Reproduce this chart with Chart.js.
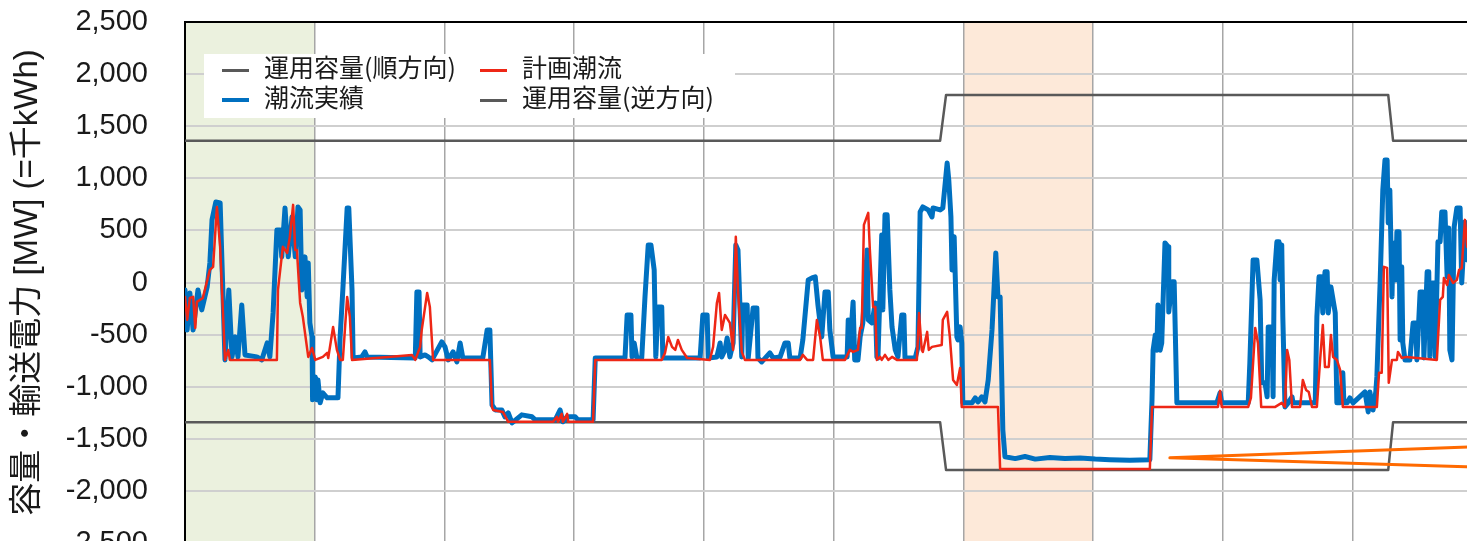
<!DOCTYPE html>
<html>
<head>
<meta charset="utf-8">
<script src="https://cdn.jsdelivr.net/npm/chart.js@4.4.1/dist/chart.umd.min.js"></script>
<style>
  html, body { margin: 0; padding: 0; background: #fff; overflow: hidden; width: 1467px; height: 541px; }
  #wrap { position: absolute; left: 0; top: 0; width: 1620px; height: 600px; }
  #legend { position: absolute; left: 204px; top: 54px; width: 531px; height: 64px; background: #fff;
            font-family: "Noto Sans CJK JP", sans-serif; font-size: 25px; color: #1a1a1a; }
  .item { position: absolute; white-space: nowrap; height: 30px; line-height: 30px; }
  .mark { display: inline-block; width: 27px; vertical-align: middle; margin-right: 15px; }
</style>
</head>
<body>
<div id="wrap"><canvas id="chart"></canvas></div>
<div id="legend">
  <div class="item" style="left:18px;top:-3px"><span class="mark" style="border-top:3px solid #595959"></span>運用容量(順方向)</div>
  <div class="item" style="left:276px;top:-3px"><span class="mark" style="border-top:3px solid #ee2716"></span>計画潮流</div>
  <div class="item" style="left:18px;top:27px"><span class="mark" style="border-top:4px solid #0070c0"></span>潮流実績</div>
  <div class="item" style="left:276px;top:27px"><span class="mark" style="border-top:3px solid #595959"></span>運用容量(逆方向)</div>
</div>
<script>
// time axis in hours from the start of the period (one grid line per day)
const capHours = [0, 139.7, 140.8, 222.6, 223.5, 264];
const capForward = [1360, 1360, 1800, 1800, 1360, 1360];
const capReverse = [-1340, -1340, -1800, -1800, -1340, -1340];

const actualHours = [
  0, 0.4, 0.9, 1.5, 2.4, 3.1, 4.1, 4.6, 5.0, 5.7, 6.5, 7.0, 7.4, 8.1, 8.7, 9.3, 9.8, 10.5, 11.1, 13.3,
  14.2, 15.2, 15.7, 16.3, 17.0, 17.6, 17.9, 18.5, 19.1, 19.8, 20.4, 20.9, 21.3, 21.6, 22.2, 22.6, 22.8, 23.1, 23.5, 23.6,
  24.1, 24.4, 24.6, 25.0, 25.5, 26.3, 28.3, 28.7, 29.2, 30.0, 30.3, 30.9, 31.1, 32.7, 33.3, 33.7, 42.6, 42.9, 43.3, 43.5,
  44.4, 45.0, 45.7, 47.5, 48.1, 48.7, 49.6, 50.3, 50.9, 51.4, 55.1, 55.9, 56.4, 56.8, 57.4, 58.6, 59.2, 59.8, 60.5, 62.3,
  64.2, 64.8, 68.5, 69.4, 69.9, 70.7, 72.2, 72.7, 75.5, 75.9, 81.4, 81.8, 82.5, 82.7, 83.1, 83.6, 84.5, 85.1, 85.7, 86.2,
  86.8, 87.1, 87.5, 88.2, 88.4, 95.3, 95.8, 96.6, 96.8, 98.4, 99.0, 99.3, 99.9, 100.3, 100.8, 101.4, 101.9, 102.3, 103.0, 103.2,
  104.0, 104.2, 105.1, 105.8, 106.0, 106.7, 108.2, 108.8, 110.1, 111.0, 111.6, 111.9, 113.8, 114.3, 115.3, 116.0, 116.6, 117.1, 117.8, 118.4,
  119.0, 119.3, 119.9, 122.5, 122.7, 123.0, 123.6, 123.9, 124.5, 124.9, 125.4, 126.2, 126.4, 127.1, 127.7, 128.0, 128.2, 128.9, 129.1, 129.5,
  129.9, 130.4, 130.8, 131.4, 131.9, 132.6, 133.0, 133.2, 135.1, 135.6, 136.0, 136.5, 137.5, 138.2, 138.4, 139.7, 140.2, 141.0, 141.3, 141.7,
  141.9, 142.3, 142.8, 143.0, 143.4, 143.7, 143.9, 145.6, 146.2, 146.7, 147.4, 148.0, 148.6, 149.3, 150.0, 150.4, 150.8, 151.3, 151.7, 153.6,
  155.4, 157.3, 160.0, 162.8, 165.6, 168.4, 171.1, 174.8, 178.5, 178.9, 179.1, 179.5, 179.8, 180.0, 180.4, 180.7, 181.3, 181.9, 182.0, 182.6,
  183.0, 183.5, 190.9, 191.5, 191.8, 196.7, 197.0, 197.6, 198.3, 198.9, 199.2, 199.8, 200.2, 200.4, 201.1, 201.3, 201.5, 202.0, 202.4, 202.6,
  202.9, 203.1, 203.5, 204.1, 204.8, 205.0, 209.1, 209.4, 209.8, 210.2, 210.5, 210.9, 211.3, 211.5, 212.0, 212.8, 213.1, 213.7, 214.2, 214.4,
  215.0, 215.5, 216.1, 218.3, 218.9, 219.2, 219.8, 220.3, 220.5, 221.1, 221.6, 222.0, 222.4, 222.6, 222.9, 223.3, 223.5, 224.0, 224.2, 224.6,
  224.8, 225.1, 225.3, 225.7, 226.6, 227.2, 227.7, 227.9, 228.5, 229.0, 229.2, 229.8, 230.1, 230.3, 230.7, 231.1, 231.3, 231.8, 232.2, 232.5,
  233.1, 233.5, 233.8, 234.0, 234.4, 234.8, 235.3, 235.9, 236.2, 236.8, 237.2, 238.7
];
const actualMW = [
  -71, -455, -100, -455, -71, -263, -42, 188, 601, 773, 764, -71, -743, -71, -714, -522, -714, -215, -695, -714,
  -743, -580, -714, -292, 505, 505, 246, 716, 246, 629, 246, 725, 697, -71, 246, -138, 188, -388, -522, -1126,
  -906, -1126, -935, -1155, -1059, -1107, -1107, -522, -71, 716, 716, -71, -724, -714, -666, -714, -724, -90, -90, -714,
  -695, -714, -743, -570, -618, -743, -666, -762, -580, -724, -724, -455, -455, -1175, -1223, -1223, -1289, -1251, -1347, -1270,
  -1289, -1318, -1318, -1223, -1337, -1289, -1289, -1318, -1318, -724, -724, -311, -311, -714, -580, -724, -724, -138, 361, 361,
  121, -714, -234, -234, -724, -724, -311, -311, -724, -714, -580, -714, -647, -532, -714, -580, 361, 313, -714, -215,
  -215, -724, -244, -244, -724, -762, -676, -724, -714, -580, -580, -724, -724, -551, 25, 44, 54, -215, -522, -90,
  -90, -455, -714, -714, -359, -647, -186, -743, -743, -522, -388, 313, -359, -388, -196, -714, -724, 457, -263, 649,
  649, -71, -426, -647, -714, -311, -311, -724, -724, -618, 677, 725, 697, 629, 716, 697, 716, 1147, 984, 629,
  121, 438, -522, -551, -426, -580, -1155, -1155, -1107, -1146, -1097, -1146, -935, -455, 284, -138, -138, -1414, -1673, -1690,
  -1670, -1695, -1680, -1690, -1685, -1695, -1700, -1705, -1700, -1126, -650, -505, -650, -215, -650, -580, 380, 342, -282, 6,
  6, -1155, -1155, -1059, -1155, -1155, -771, 217, 217, -167, -963, -963, -1097, -426, -426, -1097, 25, 390, 390, 25,
  361, -330, -1194, -1155, -1097, -1155, -1155, -330, 54, 54, -292, 102, 102, -292, -42, -292, -1155, -1155, -867, -1155,
  -1155, -1107, -1155, -1050, -1242, -1050, -1223, -1050, -906, -4, 888, 1176, 1176, 572, 888, -138, 380, 25, 486, 486,
  -551, 150, -580, -743, -743, -388, -388, -743, -90, -90, -724, 102, 102, -714, -4, -4, -714, 390, 390, 677,
  677, 54, 524, -647, -743, 533, 716, 716, -4, 581, 217, 400
];

const planHours = [
  0, 0.4, 0.9, 1.5, 1.9, 2.2, 3.3, 4.6, 5.2, 5.9, 6.5, 7.4, 8.0, 8.3, 17.0, 17.2, 18.1, 18.9, 19.4, 20.0,
  20.4, 20.7, 21.3, 21.8, 22.8, 23.5, 24.1, 25.5, 26.3, 26.5, 27.4, 28.1, 28.7, 29.2, 30.0, 30.5, 30.9, 42.0, 42.6, 43.5,
  43.8, 44.8, 45.3, 45.9, 56.4, 56.8, 57.0, 58.8, 59.8, 68.1, 68.8, 69.0, 69.7, 69.9, 70.7, 70.9, 75.5, 75.9, 88.2, 88.8,
  89.4, 90.1, 90.7, 91.2, 91.9, 92.9, 97.1, 97.7, 98.4, 98.8, 99.3, 99.9, 100.8, 101.4, 101.9, 102.3, 103.0, 103.6, 113.8, 114.3,
  115.1, 116.2, 116.9, 117.5, 118.0, 122.1, 123.0, 123.6, 124.5, 124.9, 125.2, 125.6, 126.4, 126.7, 127.3, 127.7, 128.0, 128.6, 128.9, 129.5,
  130.1, 130.8, 131.7, 135.4, 135.8, 136.3, 136.5, 137.3, 137.6, 138.2, 140.0, 140.2, 141.0, 141.5, 142.1, 142.8, 143.4, 143.7, 150.4, 150.8,
  178.5, 178.9, 191.1, 191.5, 191.8, 196.7, 197.2, 198.0, 198.5, 199.1, 201.7, 202.9, 203.5, 203.9, 204.3, 204.8, 206.3, 206.8, 207.4, 207.9,
  208.5, 209.4, 210.0, 210.5, 210.9, 211.6, 212.0, 212.4, 213.1, 213.7, 214.2, 220.5, 220.9, 221.4, 221.8, 222.4, 222.7, 223.3, 224.2, 224.4,
  225.1, 226.0, 227.9, 231.6, 232.2, 232.7, 232.9, 233.5, 233.8, 234.6, 235.3, 235.7, 236.2, 236.8, 237.2, 238.7
];
const planMW = [
  -138, -359, -148, -138, -436, -186, -148, 121, 150, 725, 342, -743, -647, -743, -743, -71, 342, 284, 438, 745,
  313, 313, -196, -330, -714, -628, -743, -714, -676, -724, -426, -647, -743, -743, -138, -330, -743, -695, -743, -618,
  -455, -100, -234, -743, -743, -1194, -1223, -1242, -1337, -1337, -1289, -1337, -1261, -1337, -1261, -1337, -1337, -743, -743, -676,
  -522, -618, -647, -551, -647, -724, -743, -618, -196, -100, -455, -311, -388, -647, 438, -71, -666, -743, -743, -695,
  -743, -743, -359, -522, -743, -743, -647, -666, -647, -436, -436, 553, 668, 313, -234, -234, -743, -714, -743, -695,
  -743, -714, -743, -743, -292, -647, -666, -474, -647, -618, -599, -359, -282, -522, -935, -983, -820, -1194, -1194, -1790,
  -1790, -1194, -1194, -1040, -1194, -1194, -1107, -436, -580, -1194, -1194, -1155, -1194, -647, -743, -1194, -1194, -935, -1031, -1050,
  -1194, -1194, -743, -407, -810, -810, -503, -714, -743, -839, -1194, -1194, -867, -867, 150, 140, -963, -743, -743, -666,
  -724, -714, -724, -743, -167, -138, 44, -24, 73, -4, 25, 121, 140, 601, 342, 300
];

// orange guide lines meeting at one point
const guideHours = [240, 182.2, 240];
const guideMW = [-1573, -1683, -1774];

const pts = (xs, ys) => xs.map((x, i) => ({ x: x, y: ys[i] }));

// shaded day bands behind the grid, plus the top frame line
const bands = {
  id: "bands",
  beforeDraw(chart) {
    const { ctx, chartArea, scales } = chart;
    const fills = [[0, 24, "#ebf1de"], [144, 168, "#fde9d9"]];
    ctx.save();
    fills.forEach(([a, b, c]) => {
      const x1 = scales.x.getPixelForValue(a);
      const x2 = scales.x.getPixelForValue(b);
      ctx.fillStyle = c;
      ctx.fillRect(x1, chartArea.top, x2 - x1, chartArea.bottom - chartArea.top);
    });
    ctx.restore();
  },
  afterDraw(chart) {
    const { ctx, chartArea } = chart;
    ctx.save();
    ctx.strokeStyle = "#000";
    ctx.lineWidth = 2;
    ctx.beginPath();
    ctx.moveTo(chartArea.left - 1, chartArea.top);
    ctx.lineTo(chartArea.right, chartArea.top);
    ctx.stroke();
    ctx.restore();
  },
};

new Chart(document.getElementById("chart"), {
  type: "line",
  data: {
    datasets: [
      { label: "", data: pts(guideHours, guideMW), borderColor: "#ff6a00", borderWidth: 3, order: 0 },
      { label: "計画潮流", data: pts(planHours, planMW), borderColor: "#ee2716", borderWidth: 2.5, order: 1 },
      { label: "潮流実績", data: pts(actualHours, actualMW), borderColor: "#0070c0", borderWidth: 5, order: 2 },
      { label: "運用容量(順方向)", data: pts(capHours, capForward), borderColor: "#595959", borderWidth: 2.5, order: 3 },
      { label: "運用容量(逆方向)", data: pts(capHours, capReverse), borderColor: "#595959", borderWidth: 2.5, order: 3 },
    ],
  },
  options: {
    responsive: true,
    maintainAspectRatio: false,
    animation: false,
    layout: { padding: { left: 0, top: 22, right: 8, bottom: 57 } },
    elements: {
      point: { radius: 0 },
      line: { tension: 0, borderJoinStyle: "round", borderCapStyle: "round" },
    },
    plugins: {
      legend: { display: false },
      tooltip: { enabled: false },
    },
    scales: {
      x: {
        type: "linear",
        min: 0,
        max: 264,
        ticks: { stepSize: 24, display: false },
        grid: { color: "#a6a6a6", lineWidth: 1.5, drawTicks: false },
        border: { display: false },
      },
      y: {
        min: -2500,
        max: 2500,
        afterFit: (s) => { s.width = 185; },
        ticks: {
          stepSize: 500,
          padding: 0,
          color: "#1a1a1a",
          font: { size: 29, family: "Liberation Sans" },
          callback: (v) => v.toLocaleString("en-US"),
        },
        grid: { color: "#cfcfcf", lineWidth: 2, drawTicks: true, tickLength: 37, tickColor: "rgba(0,0,0,0)" },
        border: { color: "#000", width: 2 },
        title: {
          display: true,
          text: "容量・輸送電力 [MW] (=千kWh)",
          color: "#1a1a1a",
          font: { size: 33, family: "'Liberation Sans', 'Noto Sans CJK JP'" },
          padding: { top: 8, bottom: 0 },
        },
      },
    },
  },
  plugins: [bands],
});
</script>
</body>
</html>
